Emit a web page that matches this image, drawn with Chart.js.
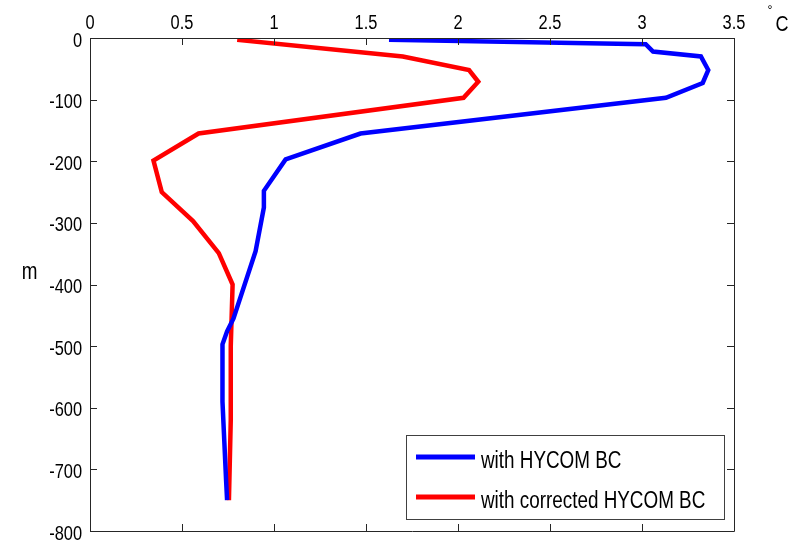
<!DOCTYPE html>
<html>
<head>
<meta charset="utf-8">
<script src="https://cdn.jsdelivr.net/npm/chart.js@4.4.1/dist/chart.umd.min.js"></script>
<style>
html,body{margin:0;padding:0;background:#fff;}
#c{display:block;}
</style>
</head>
<body>
<canvas id="c" width="794" height="543"></canvas>
<script>
// ---- data ----
const seriesLabels = ["with HYCOM BC", "with corrected HYCOM BC"];
const seriesColors = ["#0000ff", "#ff0000"];
const hycomTemp  = [1.625, 3.02, 3.06, 3.32, 3.36, 3.33, 3.13, 1.47, 1.063, 0.945, 0.945, 0.90, 0.78, 0.745, 0.72, 0.72, 0.73, 0.74, 0.745];
const hycomDepth = [-3, -10, -22, -30, -52, -73, -97, -155, -197, -248, -275, -346, -455, -476, -497, -590, -655, -720, -750];
const corrTemp   = [0.80, 1.70, 2.06, 2.11, 2.03, 0.59, 0.345, 0.39, 0.56, 0.70, 0.775, 0.765, 0.765, 0.755];
const corrDepth  = [-3, -30, -52, -71, -97, -155, -199, -250, -297, -349, -400, -500, -620, -750];
const xTickValues = [0, 0.5, 1, 1.5, 2, 2.5, 3, 3.5];
const xTickLabels = ["0", "0.5", "1", "1.5", "2", "2.5", "3", "3.5"];
const yTickValues = [0, -100, -200, -300, -400, -500, -600, -700, -800];
const yTickLabels = ["0", "-100", "-200", "-300", "-400", "-500", "-600", "-700", "-800"];
const xUnit = "C";
const yUnit = "m";

const FONT = "'Liberation Sans', Arial, sans-serif";
const SQUEEZE = 0.82;

function pts(xs, ys){ return xs.map((x,i)=>({x:x, y:ys[i]})); }

// draw horizontally condensed text (MATLAB-like narrow Helvetica)
function narrowText(ctx, text, x, y, size, align, baseline){
  ctx.save();
  ctx.font = size + "px " + FONT;
  ctx.textAlign = align;
  ctx.textBaseline = baseline;
  ctx.translate(x, y);
  ctx.scale(SQUEEZE, 1);
  ctx.fillText(text, 0, 0);
  ctx.restore();
}

const framePlugin = {
  id: 'frame',
  afterDraw(chart){
    const ctx = chart.ctx, a = chart.chartArea;
    const xs = chart.scales.x, ys = chart.scales.y;
    ctx.save();
    ctx.strokeStyle = '#262626';
    ctx.lineWidth = 1;
    ctx.beginPath();
    ctx.rect(Math.round(a.left)+0.5, Math.round(a.top)+0.5, Math.round(a.right-a.left), Math.round(a.bottom-a.top));
    ctx.stroke();
    const tl = 7;
    ctx.beginPath();
    xTickValues.forEach(v=>{
      const px = Math.round(xs.getPixelForValue(v))+0.5;
      ctx.moveTo(px, a.top); ctx.lineTo(px, a.top+tl);
      ctx.moveTo(px, a.bottom); ctx.lineTo(px, a.bottom-tl);
    });
    yTickValues.forEach(v=>{
      const py = Math.round(ys.getPixelForValue(v))+0.5;
      ctx.moveTo(a.left, py); ctx.lineTo(a.left+tl, py);
      ctx.moveTo(a.right, py); ctx.lineTo(a.right-tl, py);
    });
    ctx.stroke();

    ctx.fillStyle = '#000';
    // tick labels
    xTickValues.forEach((v,i)=>{
      narrowText(ctx, xTickLabels[i], xs.getPixelForValue(v), 23, 20, 'center', 'middle');
    });
    yTickValues.forEach((v,i)=>{
      narrowText(ctx, yTickLabels[i], 82, ys.getPixelForValue(v) + 3, 20, 'right', 'middle');
    });

    // unit labels
    narrowText(ctx, yUnit, 29.5, 273, 23, 'center', 'middle');
    narrowText(ctx, xUnit, 782, 25, 22, 'center', 'middle');
    narrowText(ctx, "\u00B0", 770, 11, 15, 'center', 'middle');

    // legend
    const lx = 406, ly = 435, lw = 318, lh = 84;
    ctx.fillStyle = '#fff';
    ctx.fillRect(lx, ly, lw, lh);
    ctx.strokeStyle = '#404040';
    ctx.lineWidth = 1;
    ctx.strokeRect(lx+0.5, ly+0.5, lw, lh);
    const rows = [457, 497];
    chart.data.datasets.forEach((ds, i)=>{
      ctx.strokeStyle = ds.borderColor;
      ctx.lineWidth = 5;
      ctx.beginPath();
      ctx.moveTo(416, rows[i]); ctx.lineTo(475, rows[i]);
      ctx.stroke();
      ctx.fillStyle = '#000';
      narrowText(ctx, ds.label, 481, rows[i] + 11, 23, 'left', 'alphabetic');
    });
    ctx.restore();
  }
};

const bgPlugin = {
  id: 'bg',
  beforeDraw(chart){
    const ctx = chart.ctx;
    ctx.save(); ctx.fillStyle = '#fff'; ctx.fillRect(0,0,chart.width,chart.height); ctx.restore();
  }
};

new Chart(document.getElementById('c'), {
  type: 'scatter',
  data: {
    datasets: [
      { label: seriesLabels[0], data: pts(hycomTemp, hycomDepth), borderColor: seriesColors[0], backgroundColor: seriesColors[0],
        showLine: true, borderWidth: 4.5, pointRadius: 0, tension: 0, borderJoinStyle: 'miter' },
      { label: seriesLabels[1], data: pts(corrTemp, corrDepth), borderColor: seriesColors[1], backgroundColor: seriesColors[1],
        showLine: true, borderWidth: 4.5, pointRadius: 0, tension: 0, borderJoinStyle: 'miter' }
    ]
  },
  options: {
    responsive: false,
    animation: false,
    layout: { padding: { left: 0, top: 0, right: 60, bottom: 12 } },
    plugins: { legend: { display: false }, tooltip: { enabled: false } },
    scales: {
      x: {
        type: 'linear', position: 'top', min: 0, max: 3.5,
        afterBuildTicks(s){ s.ticks = xTickValues.map(v=>({value:v})); },
        afterFit(s){ s.height = 38; s.paddingLeft = 0; s.paddingRight = 0; },
        grid: { display: false, drawTicks: false },
        border: { display: false },
        ticks: { display: false }
      },
      y: {
        type: 'linear', position: 'left', min: -800, max: 0,
        afterBuildTicks(s){ s.ticks = yTickValues.map(v=>({value:v})); },
        afterFit(s){ s.width = 90; s.paddingTop = 0; s.paddingBottom = 0; },
        grid: { display: false, drawTicks: false },
        border: { display: false },
        ticks: { display: false }
      }
    }
  },
  plugins: [bgPlugin, framePlugin]
});
</script>
</body>
</html>
